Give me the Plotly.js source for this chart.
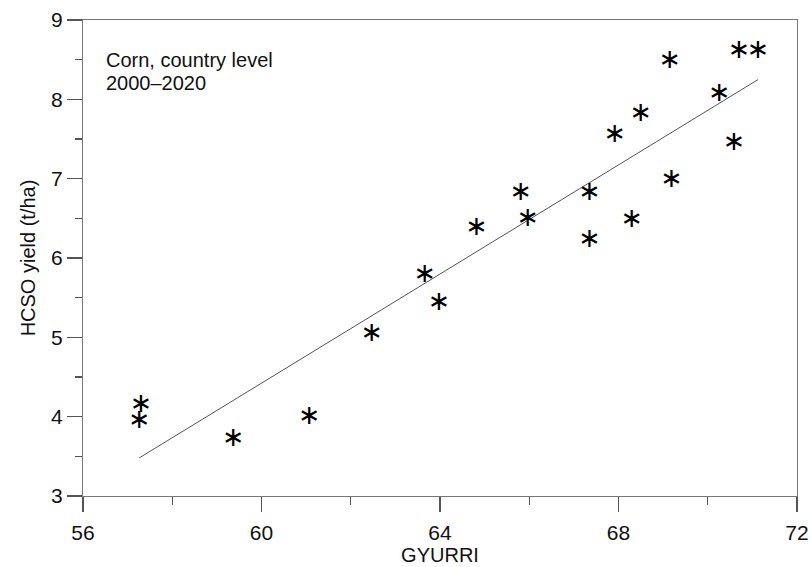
<!DOCTYPE html>
<html>
<head>
<meta charset="utf-8">
<script src="https://cdn.plot.ly/plotly-3.0.1.min.js"></script>
<style>
  html, body { margin: 0; padding: 0; background: #fff; }
  #chart { width: 811px; height: 567px; }
</style>
</head>
<body>
<div id="chart"></div>
<script>
// Observed points (GYURRI vs HCSO yield), corn, country level 2000–2020
const gyurri = [57.30, 57.26, 59.37, 61.07, 62.47, 63.66, 63.98, 64.82, 65.81, 65.97,
                67.35, 67.35, 67.92, 68.30, 68.50, 69.15, 69.19, 70.26, 70.59, 70.70, 71.13];
const hcsoYield = [4.15, 3.94, 3.72, 3.99, 5.04, 5.78, 5.43, 6.38, 6.82, 6.49,
                   6.82, 6.22, 7.55, 6.47, 7.81, 8.48, 6.98, 8.06, 7.45, 8.61, 8.60];

// Regression line end points
const fitX = [57.26, 71.13];
const fitY = [3.48, 8.25];

// Axis ticks
const xTicks = [56, 60, 64, 68, 72];
const yTicks = [3, 4, 5, 6, 7, 8, 9];

// Annotation lines
const noteLines = ['Corn, country level', '2000\u20132020'];

const FONT = "Liberation Sans, Arial, Helvetica, sans-serif";

const traces = [
  {
    x: fitX, y: fitY, type: 'scatter', mode: 'lines',
    line: { color: '#555555', width: 1 },
    hoverinfo: 'skip', showlegend: false
  },
  {
    x: gyurri, y: hcsoYield, type: 'scatter', mode: 'text',
    text: gyurri.map(() => '\u2217'),
    textposition: 'middle center',
    textfont: { family: 'DejaVu Sans', size: 27, color: '#000' },
    showlegend: false
  }
];

const axisCommon = {
  showgrid: false, zeroline: false,
  showline: true, linecolor: '#777777', linewidth: 1.2,
  mirror: true,
  ticks: 'outside', tickcolor: '#555555', tickwidth: 1.2, ticklen: 15,
  tickfont: { family: FONT, size: 21, color: '#111' }
};

const layout = {
  width: 811, height: 567,
  margin: { l: 83, r: 14, t: 20, b: 71 },
  paper_bgcolor: '#ffffff', plot_bgcolor: '#ffffff',
  font: { family: FONT, color: '#111' },
  xaxis: Object.assign({}, axisCommon, {
    range: [56, 72],
    tickmode: 'array', tickvals: xTicks, ticktext: xTicks.map(String),
    ticklabelstandoff: 3,
    minor: { dtick: 2, tick0: 56, ticks: 'outside', ticklen: 8, tickcolor: '#555555', tickwidth: 1.2 },
    title: { text: 'GYURRI', font: { family: FONT, size: 20, color: '#111' }, standoff: 4 }
  }),
  yaxis: Object.assign({}, axisCommon, {
    range: [3, 9],
    tickmode: 'array', tickvals: yTicks, ticktext: yTicks.map(String),
    minor: { dtick: 0.5, tick0: 3, ticks: 'outside', ticklen: 7, tickcolor: '#555555', tickwidth: 1.2 },
    title: { text: 'HCSO yield (t/ha)', font: { family: FONT, size: 20, color: '#111' }, standoff: 10 }
  }),
  annotations: noteLines.map((t, i) => ({
    xref: 'paper', yref: 'paper', x: 0.03, y: i === 0 ? 0.944 : 0.894,
    xanchor: 'left', yanchor: 'top', align: 'left',
    showarrow: false,
    text: t,
    font: { family: FONT, size: 20, color: '#111' }
  }))
};

Plotly.newPlot('chart', traces, layout, { displayModeBar: false, staticPlot: true });
</script>
</body>
</html>
